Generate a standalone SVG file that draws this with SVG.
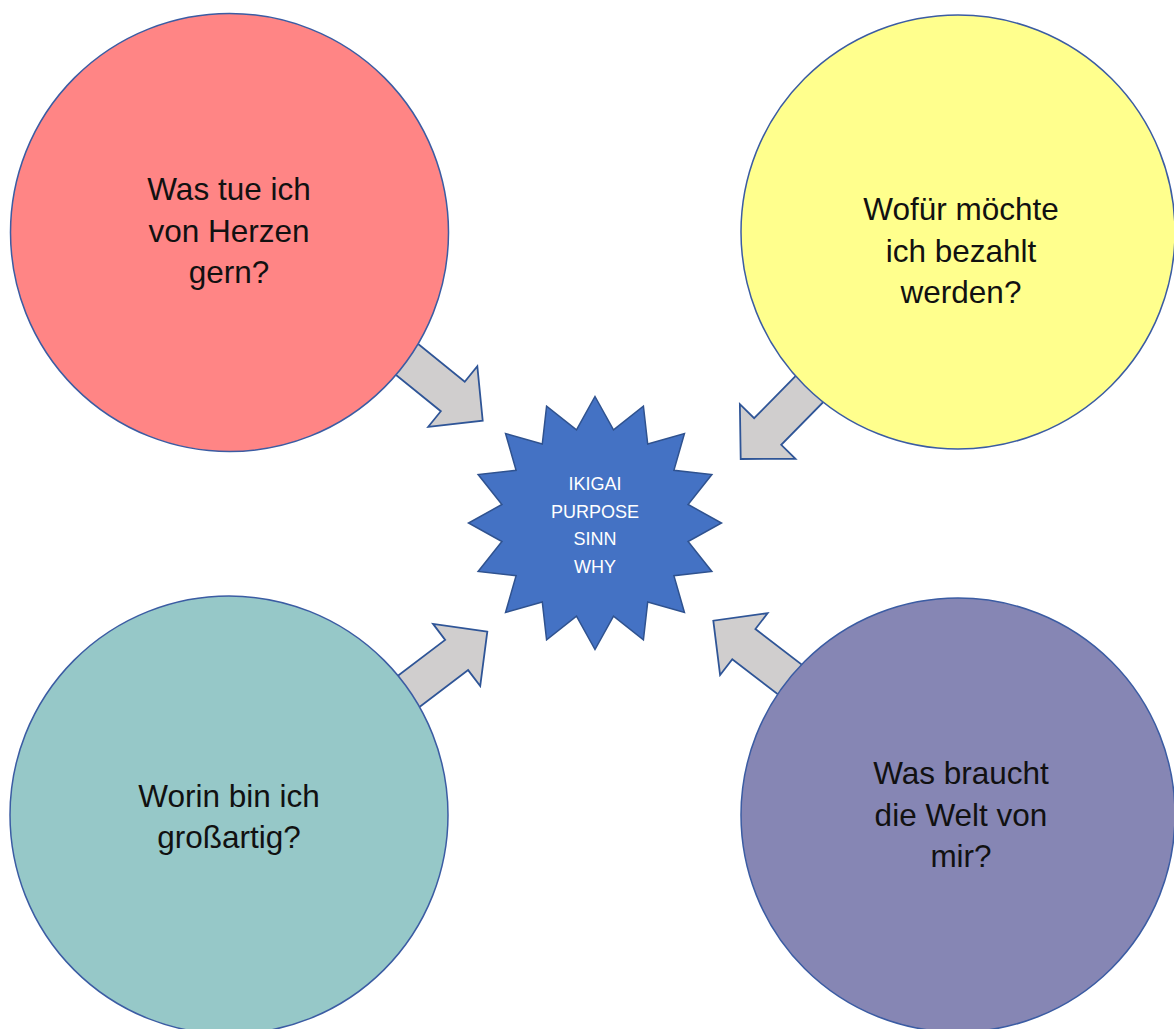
<svg xmlns="http://www.w3.org/2000/svg" width="1174" height="1029" viewBox="0 0 1174 1029">
  <style>
    .bubble { stroke: #3B5CA3; stroke-width: 1.5; }
    .q { font-family: "Liberation Sans", Arial, sans-serif; font-size: 31.5px; fill: #111; text-anchor: middle; }
    .core { font-family: "Liberation Sans", Arial, sans-serif; font-size: 18px; fill: #FFFFFF; text-anchor: middle; }
    .arrow { fill: #D0CECE; stroke: #2F5597; stroke-width: 1.8; stroke-linejoin: miter; }
  </style>
  <defs>
    <!-- block arrow pointing along +x, tip at the origin -->
    <polygon id="blockArrow" points="0,0 -38.5,-39 -38.5,-19 -140,-19 -140,19 -38.5,19 -38.5,39"/>
  </defs>
  <rect width="1174" height="1029" fill="#FFFFFF"/>

  <!-- arrows from each circle toward the centre -->
  <g id="connectors">
    <use href="#blockArrow" class="arrow" transform="translate(482.7,420.7) rotate(39)"/>
    <use href="#blockArrow" class="arrow" transform="translate(740.7,459) rotate(134.5)"/>
    <use href="#blockArrow" class="arrow" transform="translate(487.3,631.7) rotate(-37.2)"/>
    <use href="#blockArrow" class="arrow" transform="translate(713.3,620.7) rotate(-142.5)"/>
  </g>

  <g id="node-herz">
    <circle class="bubble" cx="229.5" cy="232.5" r="219" fill="#FF8585"/>
    <text class="q" x="229" y="200">Was tue ich</text>
    <text class="q" x="229" y="241.7">von Herzen</text>
    <text class="q" x="229" y="283.4">gern?</text>
  </g>

  <g id="node-bezahlt">
    <circle class="bubble" cx="958" cy="232" r="217" fill="#FFFF8D"/>
    <text class="q" x="961" y="220">Wofür möchte</text>
    <text class="q" x="961" y="261.7">ich bezahlt</text>
    <text class="q" x="961" y="303.4">werden?</text>
  </g>

  <g id="node-grossartig">
    <circle class="bubble" cx="229" cy="815" r="219" fill="#96C8C8"/>
    <text class="q" x="229" y="806.7">Worin bin ich</text>
    <text class="q" x="229" y="848.4">großartig?</text>
  </g>

  <g id="node-welt">
    <circle class="bubble" cx="958" cy="815" r="217" fill="#8686B4"/>
    <text class="q" x="961" y="784">Was braucht</text>
    <text class="q" x="961" y="825.7">die Welt von</text>
    <text class="q" x="961" y="867.4">mir?</text>
  </g>

  <g id="node-ikigai">
    <polygon fill="#4472C4" stroke="#2F528F" stroke-width="1.5" stroke-linejoin="miter"
      points="595,396.5 613.51,429.92 643.41,406.13 647.72,444.09 684.45,433.55 673.91,470.28 711.87,474.59 688.08,504.49 721.5,523 688.08,541.51 711.87,571.41 673.91,575.72 684.45,612.45 647.72,601.91 643.41,639.87 613.51,616.08 595,649.5 576.49,616.08 546.59,639.87 542.28,601.91 505.55,612.45 516.09,575.72 478.13,571.41 501.92,541.51 468.5,523 501.92,504.49 478.13,474.59 516.09,470.28 505.55,433.55 542.28,444.09 546.59,406.13 576.49,429.92"/>
    <text class="core" x="595" y="490">IKIGAI</text>
    <text class="core" x="595" y="517.5">PURPOSE</text>
    <text class="core" x="595" y="545">SINN</text>
    <text class="core" x="595" y="572.5">WHY</text>
  </g>
</svg>
